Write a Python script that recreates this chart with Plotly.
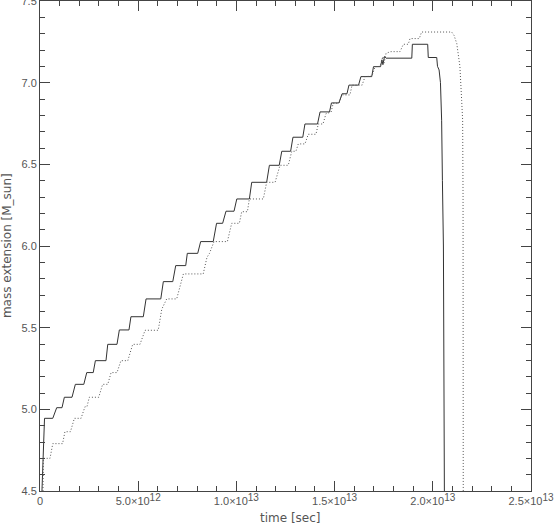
import plotly.graph_objects as go

# time in units of 1e12 s, mass extension in M_sun
t_solid = [0.10, 0.23, 0.65, 0.85, 1.12, 1.24, 1.63, 1.80, 2.23, 2.38,
           2.71, 2.82, 3.36, 3.45, 3.92, 4.04, 4.53, 4.63, 5.26, 5.40,
           6.15, 6.28, 6.76, 6.91, 7.42, 7.50, 8.03, 8.18, 8.82, 8.99,
           9.30, 9.47, 9.88, 10.02, 10.66, 10.78, 11.54, 11.68, 12.18, 12.31,
           12.76, 12.88, 13.38, 13.49, 14.13, 14.26, 14.74, 14.84, 15.22, 15.38,
           15.63, 15.73, 16.22, 16.34, 16.89, 16.98, 17.34, 17.41, 17.46, 17.54,
           17.62, 18.93, 18.96, 19.74, 19.77, 20.20, 20.24, 20.32, 20.39, 20.45,
           20.49, 20.54, 20.59]
m_solid = [4.50, 4.945, 4.945, 5.01, 5.01, 5.074, 5.074, 5.153, 5.153, 5.225,
           5.225, 5.298, 5.298, 5.398, 5.398, 5.486, 5.486, 5.567, 5.567, 5.676,
           5.676, 5.782, 5.782, 5.88, 5.88, 5.955, 5.955, 6.027, 6.027, 6.139,
           6.139, 6.213, 6.213, 6.288, 6.288, 6.39, 6.39, 6.494, 6.494, 6.58,
           6.58, 6.666, 6.666, 6.747, 6.747, 6.821, 6.821, 6.876, 6.876, 6.932,
           6.932, 6.985, 6.985, 7.037, 7.037, 7.098, 7.098, 7.14, 7.11, 7.16,
           7.15, 7.15, 7.235, 7.235, 7.154, 7.154, 7.10, 7.078, 7.0, 6.77,
           6.4, 6.0, 4.50]

t_dotted = [0.15, 0.17, 0.51, 0.65, 1.15, 1.27, 1.55, 1.75, 2.09, 2.29,
            2.39, 2.51, 2.99, 3.19, 3.45, 3.62, 3.92, 4.12, 4.47, 4.72,
            5.09, 5.35, 6.02, 6.20, 6.45, 6.96, 7.30, 8.31, 8.50, 8.63,
            8.86, 9.54, 9.76, 10.15, 10.27, 10.56, 10.66, 11.37, 11.54, 11.97,
            12.22, 12.64, 12.82, 13.03, 13.15, 13.49, 13.66, 14.05, 14.17, 14.41,
            14.56, 14.82, 14.93, 15.22, 15.38, 15.78, 15.89, 16.40, 16.55, 16.90,
            17.06, 17.31, 17.46, 17.52, 17.62, 17.86, 18.33, 18.50, 18.75, 18.84,
            19.31, 19.43, 20.96, 21.08, 21.22, 21.31, 21.38, 21.47, 21.52, 21.54,
            21.55]
m_dotted = [4.50, 4.70, 4.70, 4.79, 4.79, 4.863, 4.863, 4.945, 4.945, 5.016,
            5.016, 5.074, 5.074, 5.153, 5.153, 5.225, 5.225, 5.298, 5.298, 5.398,
            5.398, 5.484, 5.484, 5.613, 5.676, 5.676, 5.829, 5.829, 5.93, 5.955,
            6.027, 6.027, 6.139, 6.139, 6.21, 6.21, 6.288, 6.288, 6.39, 6.39,
            6.494, 6.494, 6.58, 6.58, 6.625, 6.625, 6.684, 6.684, 6.747, 6.747,
            6.81, 6.82, 6.874, 6.874, 6.925, 6.925, 6.985, 6.985, 7.037, 7.04,
            7.098, 7.10, 7.16, 7.12, 7.18, 7.19, 7.19, 7.235, 7.235, 7.27,
            7.27, 7.31, 7.31, 7.29, 7.24, 7.17, 7.10, 6.89, 6.77, 6.3,
            4.50]

x_ticks = [0, 5e12, 1e13, 1.5e13, 2e13, 2.5e13]
x_ticktext = ['0',
              '5.0\u00d710<sup><span style="font-size:10px">12</span></sup>',
              '1.0\u00d710<sup><span style="font-size:10px">13</span></sup>',
              '1.5\u00d710<sup><span style="font-size:10px">13</span></sup>',
              '2.0\u00d710<sup><span style="font-size:10px">13</span></sup>',
              '2.5\u00d710<sup><span style="font-size:10px">13</span></sup>']
y_ticks = [4.5, 5.0, 5.5, 6.0, 6.5, 7.0, 7.5]
y_ticktext = ['4.5', '5.0', '5.5', '6.0', '6.5', '7.0', '7.5']

axis_col = '#444444'
tick_font = dict(family='Liberation Sans', size=11, color='#555555')
title_font = dict(family='DejaVu Sans', size=12, color='#555555')

fig = go.Figure()
fig.add_trace(go.Scatter(x=[v * 1e12 for v in t_solid], y=m_solid, mode='lines',
                         line=dict(color='#333333', width=1), hoverinfo='skip'))
fig.add_trace(go.Scatter(x=[v * 1e12 for v in t_dotted], y=m_dotted, mode='lines',
                         line=dict(color='#555555', width=1, dash='1px,2px'),
                         hoverinfo='skip'))

fig.update_layout(width=557, height=525, showlegend=False,
                  margin=dict(l=40, r=26, t=1, b=34, autoexpand=False),
                  paper_bgcolor='white', plot_bgcolor='white')
fig.update_xaxes(range=[0, 2.5e13], tickvals=x_ticks, ticktext=x_ticktext,
                 ticks='inside', ticklen=10, tickcolor=axis_col, tickwidth=1,
                 showline=True, linecolor=axis_col, linewidth=1, mirror='ticks',
                 showgrid=False, zeroline=False, tickfont=tick_font, automargin=False,
                 ticklabeloverflow='allow',
                 minor=dict(dtick=1e12, ticks='inside', ticklen=5,
                            tickcolor=axis_col, showgrid=False))
fig.update_yaxes(range=[4.5, 7.5], tickvals=y_ticks, ticktext=y_ticktext,
                 ticks='inside', ticklen=10, tickcolor=axis_col, tickwidth=1,
                 showline=True, linecolor=axis_col, linewidth=1, mirror='ticks',
                 showgrid=False, zeroline=False, tickfont=tick_font, automargin=False,
                 ticklabeloverflow='allow',
                 minor=dict(dtick=0.1, ticks='inside', ticklen=5,
                            tickcolor=axis_col, showgrid=False))

fig.add_annotation(text='time [sec]', xref='paper', yref='paper', x=0.51, y=-0.055,
                   xanchor='center', yanchor='middle', showarrow=False, font=title_font)
fig.add_annotation(text='mass extension [M_sun]', xref='paper', yref='paper',
                   x=-0.067, y=0.5, xanchor='center', yanchor='middle',
                   textangle=-90, showarrow=False, font=title_font)

# page body has an 8px default margin; drop it so the figure sits at the window corner
fig.write_html("out.html", config={'displayModeBar': False},
               post_script="document.body.style.margin='0';")
